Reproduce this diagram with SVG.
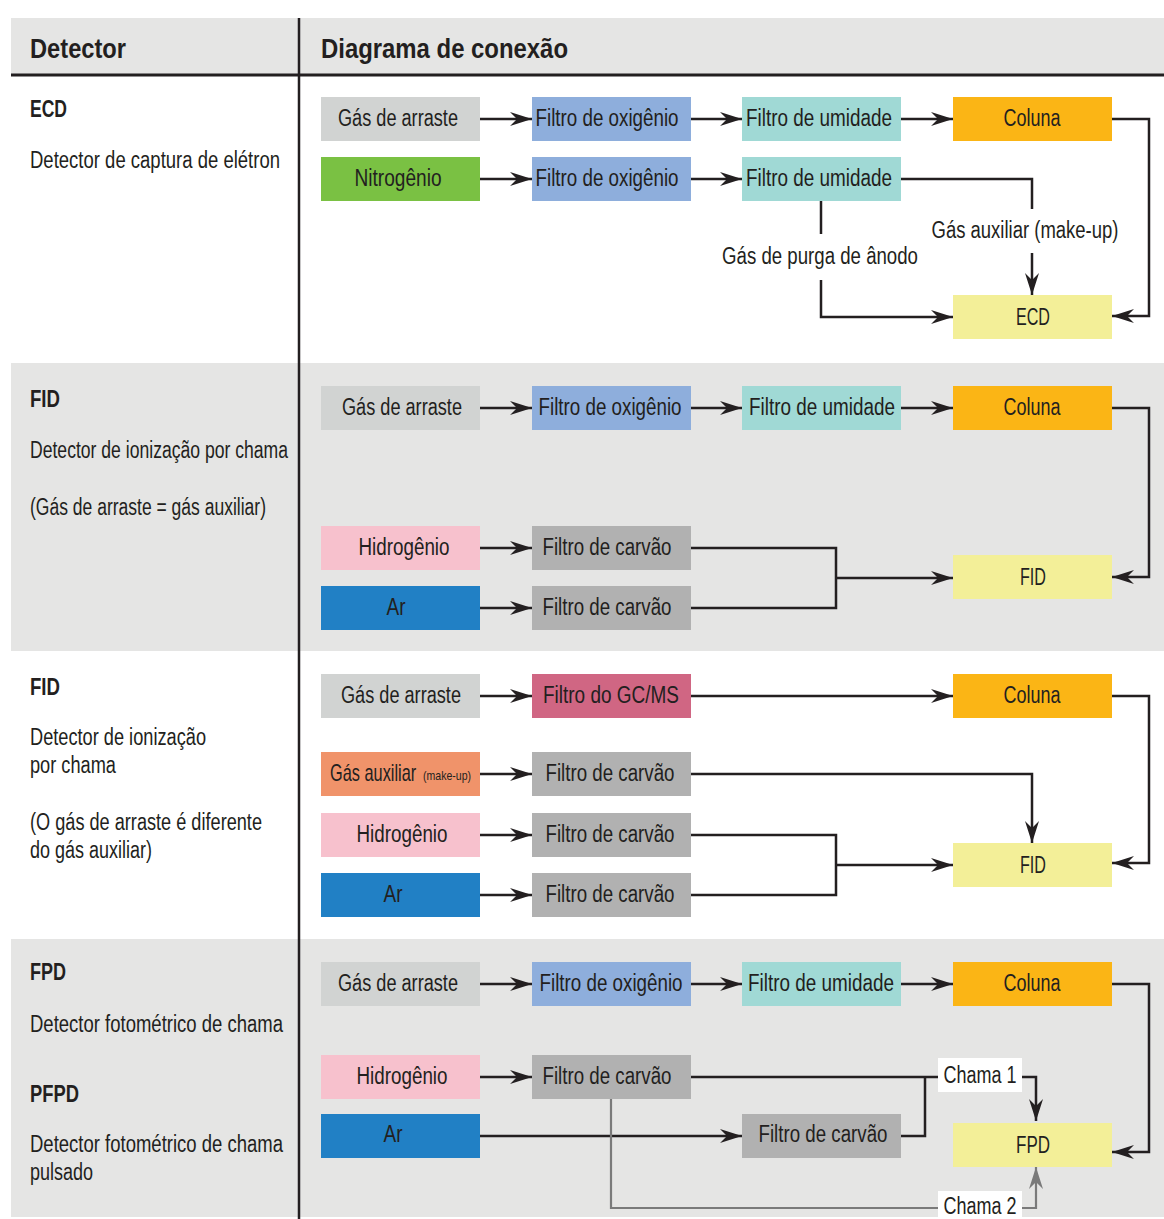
<svg xmlns="http://www.w3.org/2000/svg" width="1164" height="1219" viewBox="0 0 1164 1219">
<style>
text{font-family:"Liberation Sans",Arial,sans-serif;fill:#231f20;font-size:23px}
.t{font-weight:bold;font-size:28px}
.h{font-weight:bold;font-size:24px}
.s{font-size:12px}
.c{text-anchor:middle}
.ln{fill:none;stroke:#231f20;stroke-width:2.5}
.lg{fill:none;stroke:#7a7a7a;stroke-width:2.2}
.ar{marker-end:url(#a)}
.ag{marker-end:url(#g)}
.bg{fill:#e5e5e4}
</style>
<defs>
<marker id="a" markerUnits="userSpaceOnUse" viewBox="0 0 22 14" refX="22" refY="7" markerWidth="22" markerHeight="14" orient="auto"><path d="M0,0 L22,7 L0,14 L7,7 z" fill="#231f20"/></marker>
<marker id="g" markerUnits="userSpaceOnUse" viewBox="0 0 22 14" refX="22" refY="7" markerWidth="22" markerHeight="14" orient="auto"><path d="M0,0 L22,7 L0,14 L7,7 z" fill="#7a7a7a"/></marker>
</defs>
<rect width="1164" height="1219" fill="#fff"/>
<rect class="bg" x="11" y="18" width="1153" height="57"/>
<rect class="bg" x="11" y="363" width="1153" height="288"/>
<rect class="bg" x="11" y="939" width="1153" height="278"/>
<line x1="11" y1="75" x2="1164" y2="75" stroke="#231f20" stroke-width="3"/>
<line x1="299" y1="18" x2="299" y2="1219" stroke="#231f20" stroke-width="2.5"/>
<text class="t" x="30" y="58" textLength="96" lengthAdjust="spacingAndGlyphs">Detector</text>
<text class="t" x="321" y="58" textLength="247" lengthAdjust="spacingAndGlyphs">Diagrama de conexão</text>

<g id="labels">
<text class="h" x="30" y="117" textLength="37" lengthAdjust="spacingAndGlyphs">ECD</text>
<text x="30" y="168" textLength="250" lengthAdjust="spacingAndGlyphs">Detector de captura de elétron</text>
<text class="h" x="30" y="407" textLength="30" lengthAdjust="spacingAndGlyphs">FID</text>
<text x="30" y="458" textLength="258" lengthAdjust="spacingAndGlyphs">Detector de ionização por chama</text>
<text x="30" y="515" textLength="236" lengthAdjust="spacingAndGlyphs">(Gás de arraste = gás auxiliar)</text>
<text class="h" x="30" y="695" textLength="30" lengthAdjust="spacingAndGlyphs">FID</text>
<text x="30" y="745" textLength="176" lengthAdjust="spacingAndGlyphs">Detector de ionização</text>
<text x="30" y="773" textLength="86" lengthAdjust="spacingAndGlyphs">por chama</text>
<text x="30" y="830" textLength="232" lengthAdjust="spacingAndGlyphs">(O gás de arraste é diferente</text>
<text x="30" y="858" textLength="122" lengthAdjust="spacingAndGlyphs">do gás auxiliar)</text>
<text class="h" x="30" y="980" textLength="36" lengthAdjust="spacingAndGlyphs">FPD</text>
<text x="30" y="1032" textLength="253" lengthAdjust="spacingAndGlyphs">Detector fotométrico de chama</text>
<text class="h" x="30" y="1102" textLength="49" lengthAdjust="spacingAndGlyphs">PFPD</text>
<text x="30" y="1152" textLength="253" lengthAdjust="spacingAndGlyphs">Detector fotométrico de chama</text>
<text x="30" y="1180" textLength="63" lengthAdjust="spacingAndGlyphs">pulsado</text>
</g>

<g id="connectors">
<path class="ln ar" d="M480,119 H532"/>
<path class="ln ar" d="M691,119 H742"/>
<path class="ln ar" d="M901,119 H953"/>
<path class="ln ar" d="M1112,119 H1149 V316 H1112"/>
<path class="ln ar" d="M480,179 H532"/>
<path class="ln ar" d="M691,179 H742"/>
<path class="ln" d="M901,179 H1032 V209"/>
<path class="ln ar" d="M1032,253 V295"/>
<path class="ln" d="M821,201 V234"/>
<path class="ln ar" d="M821,280 V317 H953"/>
<path class="ln ar" d="M480,408 H532"/>
<path class="ln ar" d="M691,408 H742"/>
<path class="ln ar" d="M901,408 H953"/>
<path class="ln ar" d="M1112,408 H1149 V577 H1112"/>
<path class="ln ar" d="M480,548 H532"/>
<path class="ln ar" d="M480,608 H532"/>
<path class="ln" d="M691,548 H836 V608 H691"/>
<path class="ln ar" d="M836,578 H953"/>
<path class="ln ar" d="M480,696 H532"/>
<path class="ln ar" d="M691,696 H953"/>
<path class="ln ar" d="M1112,696 H1149 V863 H1112"/>
<path class="ln ar" d="M480,774 H532"/>
<path class="ln ar" d="M691,774 H1032 V843"/>
<path class="ln ar" d="M480,835 H532"/>
<path class="ln ar" d="M480,895 H532"/>
<path class="ln" d="M691,835 H836 V895 H691"/>
<path class="ln ar" d="M836,865 H953"/>
<path class="ln ar" d="M480,984 H532"/>
<path class="ln ar" d="M691,984 H742"/>
<path class="ln ar" d="M901,984 H953"/>
<path class="ln ar" d="M1112,984 H1149 V1152 H1112"/>
<path class="ln ar" d="M480,1077 H532"/>
<path class="ln ar" d="M480,1136 H742"/>
<path class="lg" d="M611,1099 V1208 H940"/>
<path class="ln" d="M691,1077 H940"/>
<path class="ln" d="M901,1136 H925 V1077"/>
<path class="ln ar" d="M1020,1077 H1036 V1121"/>
<path class="lg ag" d="M1020,1208 H1036 V1167"/>
</g>

<g id="n-ecd">
<g id="ecd-gas"><rect x="321" y="97" width="159" height="44" fill="#d1d3d2"/><text class="c" x="398" y="126" textLength="120" lengthAdjust="spacingAndGlyphs">Gás de arraste</text></g>
<g id="ecd-ox1"><rect x="532" y="97" width="159" height="44" fill="#8eaedc"/><text class="c" x="607" y="126" textLength="143" lengthAdjust="spacingAndGlyphs">Filtro de oxigênio</text></g>
<g id="ecd-um1"><rect x="742" y="97" width="159" height="44" fill="#a0d9d5"/><text class="c" x="819" y="126" textLength="146" lengthAdjust="spacingAndGlyphs">Filtro de umidade</text></g>
<g id="ecd-col"><rect x="953" y="97" width="159" height="44" fill="#fbb515"/><text class="c" x="1032" y="126" textLength="57" lengthAdjust="spacingAndGlyphs">Coluna</text></g>
<g id="ecd-n2"><rect x="321" y="157" width="159" height="44" fill="#7ac143"/><text class="c" x="398" y="186" textLength="87" lengthAdjust="spacingAndGlyphs">Nitrogênio</text></g>
<g id="ecd-ox2"><rect x="532" y="157" width="159" height="44" fill="#8eaedc"/><text class="c" x="607" y="186" textLength="143" lengthAdjust="spacingAndGlyphs">Filtro de oxigênio</text></g>
<g id="ecd-um2"><rect x="742" y="157" width="159" height="44" fill="#a0d9d5"/><text class="c" x="819" y="186" textLength="146" lengthAdjust="spacingAndGlyphs">Filtro de umidade</text></g>
<g id="ecd-det"><rect x="953" y="295" width="159" height="44" fill="#f3ef98"/><text class="c" x="1033" y="325" textLength="34" lengthAdjust="spacingAndGlyphs">ECD</text></g>
<text class="c" x="1025" y="238" textLength="187" lengthAdjust="spacingAndGlyphs">Gás auxiliar (make-up)</text>
<text class="c" x="820" y="264" textLength="196" lengthAdjust="spacingAndGlyphs">Gás de purga de ânodo</text>
</g>

<g id="n-fid1">
<g id="f1-gas"><rect x="321" y="386" width="159" height="44" fill="#d1d3d2"/><text class="c" x="402" y="415" textLength="120" lengthAdjust="spacingAndGlyphs">Gás de arraste</text></g>
<g id="f1-ox"><rect x="532" y="386" width="159" height="44" fill="#8eaedc"/><text class="c" x="610" y="415" textLength="143" lengthAdjust="spacingAndGlyphs">Filtro de oxigênio</text></g>
<g id="f1-um"><rect x="742" y="386" width="159" height="44" fill="#a0d9d5"/><text class="c" x="822" y="415" textLength="146" lengthAdjust="spacingAndGlyphs">Filtro de umidade</text></g>
<g id="f1-col"><rect x="953" y="386" width="159" height="44" fill="#fbb515"/><text class="c" x="1032" y="415" textLength="57" lengthAdjust="spacingAndGlyphs">Coluna</text></g>
<g id="f1-h2"><rect x="321" y="526" width="159" height="44" fill="#f7c1cd"/><text class="c" x="404" y="555" textLength="91" lengthAdjust="spacingAndGlyphs">Hidrogênio</text></g>
<g id="f1-c1"><rect x="532" y="526" width="159" height="44" fill="#b1b1b1"/><text class="c" x="607" y="555" textLength="129" lengthAdjust="spacingAndGlyphs">Filtro de carvão</text></g>
<g id="f1-ar"><rect x="321" y="586" width="159" height="44" fill="#2180c5"/><text class="c" x="396" y="615" textLength="19" lengthAdjust="spacingAndGlyphs">Ar</text></g>
<g id="f1-c2"><rect x="532" y="586" width="159" height="44" fill="#b1b1b1"/><text class="c" x="607" y="615" textLength="129" lengthAdjust="spacingAndGlyphs">Filtro de carvão</text></g>
<g id="f1-det"><rect x="953" y="555" width="159" height="44" fill="#f3ef98"/><text class="c" x="1033" y="585" textLength="26" lengthAdjust="spacingAndGlyphs">FID</text></g>
</g>

<g id="n-fid2">
<g id="f2-gas"><rect x="321" y="674" width="159" height="44" fill="#d1d3d2"/><text class="c" x="401" y="703" textLength="120" lengthAdjust="spacingAndGlyphs">Gás de arraste</text></g>
<g id="f2-ms"><rect x="532" y="674" width="159" height="44" fill="#d06683"/><text class="c" x="611" y="703" textLength="136" lengthAdjust="spacingAndGlyphs">Filtro do GC/MS</text></g>
<g id="f2-col"><rect x="953" y="674" width="159" height="44" fill="#fbb515"/><text class="c" x="1032" y="703" textLength="57" lengthAdjust="spacingAndGlyphs">Coluna</text></g>
<g id="f2-mk"><rect x="321" y="752" width="159" height="44" fill="#f0936a"/><text transform="translate(330,781) scale(0.71,1)">Gás auxiliar</text><text class="s" transform="translate(423,780) scale(0.88,1)">(make-up)</text></g>
<g id="f2-c0"><rect x="532" y="752" width="159" height="44" fill="#b1b1b1"/><text class="c" x="610" y="781" textLength="129" lengthAdjust="spacingAndGlyphs">Filtro de carvão</text></g>
<g id="f2-h2"><rect x="321" y="813" width="159" height="44" fill="#f7c1cd"/><text class="c" x="402" y="842" textLength="91" lengthAdjust="spacingAndGlyphs">Hidrogênio</text></g>
<g id="f2-c1"><rect x="532" y="813" width="159" height="44" fill="#b1b1b1"/><text class="c" x="610" y="842" textLength="129" lengthAdjust="spacingAndGlyphs">Filtro de carvão</text></g>
<g id="f2-ar"><rect x="321" y="873" width="159" height="44" fill="#2180c5"/><text class="c" x="393" y="902" textLength="19" lengthAdjust="spacingAndGlyphs">Ar</text></g>
<g id="f2-c2"><rect x="532" y="873" width="159" height="44" fill="#b1b1b1"/><text class="c" x="610" y="902" textLength="129" lengthAdjust="spacingAndGlyphs">Filtro de carvão</text></g>
<g id="f2-det"><rect x="953" y="843" width="159" height="44" fill="#f3ef98"/><text class="c" x="1033" y="873" textLength="26" lengthAdjust="spacingAndGlyphs">FID</text></g>
</g>

<g id="n-fpd">
<g id="p-gas"><rect x="321" y="962" width="159" height="44" fill="#d1d3d2"/><text class="c" x="398" y="991" textLength="120" lengthAdjust="spacingAndGlyphs">Gás de arraste</text></g>
<g id="p-ox"><rect x="532" y="962" width="159" height="44" fill="#8eaedc"/><text class="c" x="611" y="991" textLength="143" lengthAdjust="spacingAndGlyphs">Filtro de oxigênio</text></g>
<g id="p-um"><rect x="742" y="962" width="159" height="44" fill="#a0d9d5"/><text class="c" x="821" y="991" textLength="146" lengthAdjust="spacingAndGlyphs">Filtro de umidade</text></g>
<g id="p-col"><rect x="953" y="962" width="159" height="44" fill="#fbb515"/><text class="c" x="1032" y="991" textLength="57" lengthAdjust="spacingAndGlyphs">Coluna</text></g>
<g id="p-h2"><rect x="321" y="1055" width="159" height="44" fill="#f7c1cd"/><text class="c" x="402" y="1084" textLength="91" lengthAdjust="spacingAndGlyphs">Hidrogênio</text></g>
<g id="p-c1"><rect x="532" y="1055" width="159" height="44" fill="#b1b1b1"/><text class="c" x="607" y="1084" textLength="129" lengthAdjust="spacingAndGlyphs">Filtro de carvão</text></g>
<g id="p-ar"><rect x="321" y="1114" width="159" height="44" fill="#2180c5"/><text class="c" x="393" y="1142" textLength="19" lengthAdjust="spacingAndGlyphs">Ar</text></g>
<g id="p-c2"><rect x="742" y="1114" width="159" height="44" fill="#b1b1b1"/><text class="c" x="823" y="1142" textLength="129" lengthAdjust="spacingAndGlyphs">Filtro de carvão</text></g>
<g id="p-det"><rect x="953" y="1123" width="159" height="44" fill="#f3ef98"/><text class="c" x="1033" y="1153" textLength="34" lengthAdjust="spacingAndGlyphs">FPD</text></g>
<g id="p-ch1"><rect x="938" y="1058" width="84" height="34" fill="#fff"/><text class="c" x="980" y="1083" textLength="73" lengthAdjust="spacingAndGlyphs">Chama 1</text></g>
<g id="p-ch2"><rect x="938" y="1191" width="84" height="28" fill="#fff"/><text class="c" x="980" y="1214" textLength="73" lengthAdjust="spacingAndGlyphs">Chama 2</text></g>
</g>
</svg>
